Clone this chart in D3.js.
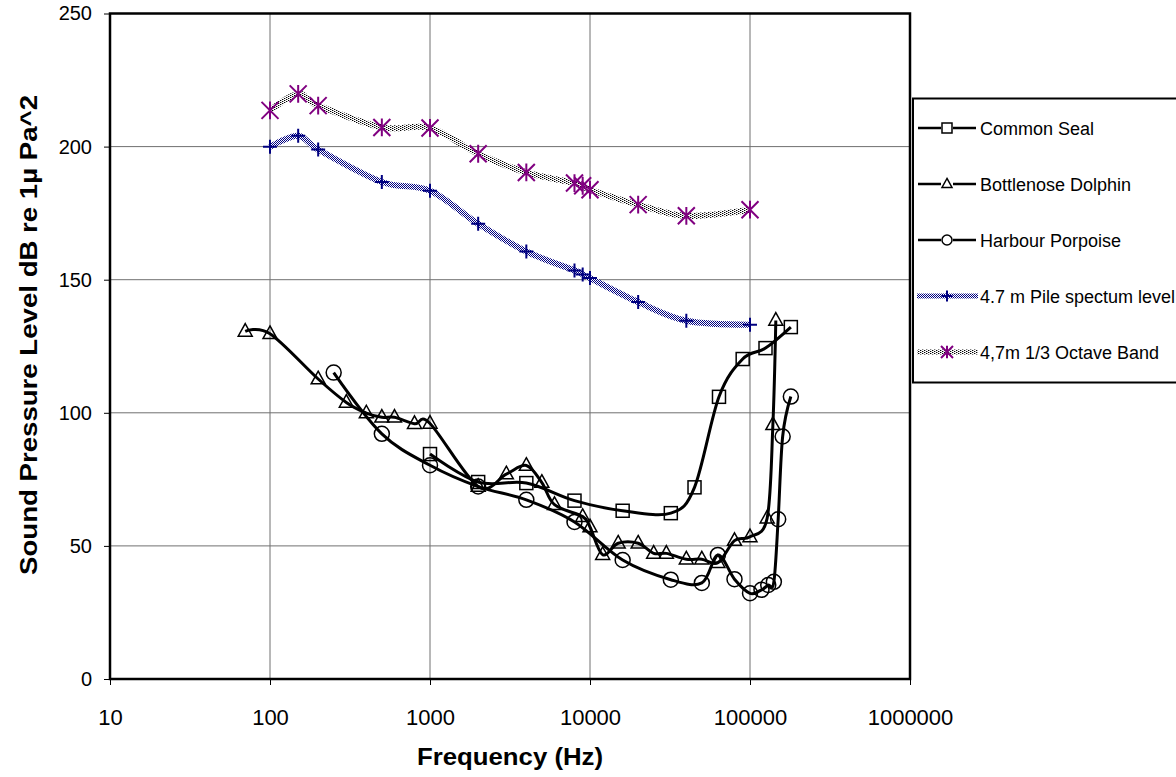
<!DOCTYPE html>
<html><head><meta charset="utf-8">
<script src="https://cdn.jsdelivr.net/npm/d3@7"></script>
<style>body{margin:0;background:#fff}svg{display:block}text{font-family:"Liberation Sans",Arial,sans-serif}</style>
</head><body>
<svg id="c" width="1176" height="777"></svg>
<script>
// ---- data ----
const xTicks = [10, 100, 1000, 10000, 100000, 1000000];
const yTicks = [0, 50, 100, 150, 200, 250];

const sealFreq = [1000, 2000, 4000, 8000, 16000, 32000, 45000, 64000, 90000, 125000, 180000];
const sealSPL  = [84.5, 74, 73.6, 67, 63.2, 62.3, 72, 106, 120.2, 124.3, 132.2];

const dolphinFreq = [70, 100, 200, 300, 400, 500, 600, 800, 1000, 2000, 3000, 4000, 5000, 6000, 9000, 10000, 12000, 15000, 20000, 25000, 30000, 40000, 50000, 63000, 80000, 100000, 128000, 139000, 145000];
const dolphinSPL  = [130.6, 129.7, 112.7, 103.9, 99.9, 98.3, 98.3, 95.9, 96, 72.3, 77, 80.2, 73.8, 65.5, 61, 57.1, 46.7, 51, 51, 47.2, 47.2, 45, 45, 43.7, 52, 53.4, 60.4, 95.5, 134.7];

const porpoiseFreq = [250, 500, 1000, 2000, 4000, 8000, 16000, 32000, 50000, 63000, 80000, 100000, 118000, 130000, 141000, 150000, 160000, 180000];
const porpoiseSPL  = [115.1, 92.1, 80.3, 72.3, 67.3, 59, 44.7, 37.3, 36.1, 46.6, 37.5, 32.2, 33.5, 35.3, 36.5, 60, 91.1, 106.1];

const pileFreq = [100, 150, 200, 500, 1000, 2000, 4000, 8000, 9000, 10000, 20000, 40000, 100000];
const pileSPL  = [199.9, 204.1, 198.9, 186.7, 183.4, 171, 160.6, 153.5, 152, 150.6, 141.6, 134.6, 133.1];

const octFreq = [100, 150, 200, 500, 1000, 2000, 4000, 8000, 9000, 10000, 20000, 40000, 100000];
const octSPL  = [213.6, 219.8, 215.4, 207.2, 207, 197.3, 190.3, 186.3, 185.3, 183.8, 178.2, 174, 176.3];

const seriesNames = ["Common Seal", "Bottlenose Dolphin", "Harbour Porpoise", "4.7 m Pile spectum level", "4,7m 1/3 Octave Band"];

// ---- layout ----
const L = 110, R = 910, T = 13.5, B = 679;
const svg = d3.select("#c");
const x = d3.scaleLog().domain([10, 1000000]).range([L, R]);
const y = d3.scaleLinear().domain([0, 250]).range([B, T]);

const defs = svg.append("defs");
const pBlue = defs.append("pattern").attr("id","pblue").attr("patternUnits","userSpaceOnUse").attr("width",2).attr("height",2);
pBlue.append("rect").attr("width",2).attr("height",2).attr("fill","#fff");
pBlue.append("rect").attr("x",0).attr("y",0).attr("width",1).attr("height",1).attr("fill","#000080");
pBlue.append("rect").attr("x",1).attr("y",1).attr("width",1).attr("height",1).attr("fill","#000080");
const pGray = defs.append("pattern").attr("id","pgray").attr("patternUnits","userSpaceOnUse").attr("width",4).attr("height",2);
pGray.append("rect").attr("width",4).attr("height",2).attr("fill","#fff");
pGray.append("rect").attr("x",0).attr("y",0).attr("width",1).attr("height",1).attr("fill","#000");
pGray.append("rect").attr("x",2).attr("y",1).attr("width",1).attr("height",1).attr("fill","#000");
pGray.append("rect").attr("x",1).attr("y",0).attr("width",1).attr("height",1).attr("fill","#aaa");
pGray.append("rect").attr("x",3).attr("y",1).attr("width",1).attr("height",1).attr("fill","#aaa");

// grid
const g = svg.append("g");
g.selectAll(".gx").data(xTicks).join("line")
  .attr("x1", d=>x(d)).attr("x2", d=>x(d)).attr("y1", T).attr("y2", B)
  .attr("stroke","#707070").attr("stroke-width",1);
g.selectAll(".gy").data(yTicks).join("line")
  .attr("x1", L).attr("x2", R).attr("y1", d=>y(d)).attr("y2", d=>y(d))
  .attr("stroke","#707070").attr("stroke-width",1);

// axes
const ax = svg.append("g").attr("transform",`translate(0,${B})`)
  .call(d3.axisBottom(x).tickValues(xTicks).tickFormat(d3.format("d")).tickSize(6).tickSizeOuter(0));
ax.select(".domain").remove();
ax.selectAll("text").attr("font-size",22).attr("y",9).attr("dy","1.68em").attr("fill","#000");
ax.selectAll("line").attr("stroke","#000");
const ay = svg.append("g").attr("transform",`translate(${L},0)`)
  .call(d3.axisLeft(y).tickValues(yTicks).tickSize(6).tickSizeOuter(0));
ay.select(".domain").remove();
ay.selectAll("text").attr("font-size",20).attr("dx","-0.45em").attr("fill","#000");
ay.selectAll("line").attr("stroke","#000");

// plot border
svg.append("rect").attr("x",L).attr("y",T).attr("width",R-L).attr("height",B-T)
  .attr("fill","none").attr("stroke","#000").attr("stroke-width",2.5);

// axis titles
svg.append("text").attr("x",(L+R)/2).attr("y",765).attr("text-anchor","middle")
  .attr("font-size",24).attr("font-weight","bold").text("Frequency (Hz)")
  .attr("textLength",186).attr("lengthAdjust","spacingAndGlyphs");
svg.append("text").attr("transform",`translate(37,335) rotate(-90)`).attr("text-anchor","middle")
  .attr("font-size",24).attr("font-weight","bold").text("Sound Pressure Level dB re 1\u00b5 Pa^2")
  .attr("textLength",480).attr("lengthAdjust","spacingAndGlyphs");

const line = d3.line().x(d=>x(d[0])).y(d=>y(d[1])).curve(d3.curveCardinal.tension(0));
const zip = (a,b)=>a.map((v,i)=>[v,b[i]]);

const seal = zip(sealFreq, sealSPL), dol = zip(dolphinFreq, dolphinSPL), por = zip(porpoiseFreq, porpoiseSPL);
const pile = zip(pileFreq, pileSPL), oct = zip(octFreq, octSPL);

const plot = svg.append("g");
plot.append("path").attr("d", line(oct)).attr("fill","none").attr("stroke","url(#pgray)").attr("stroke-width",6);
plot.append("path").attr("d", line(pile)).attr("fill","none").attr("stroke","url(#pblue)").attr("stroke-width",6);
[seal, dol, por].forEach(s=>{
  plot.append("path").attr("d", line(s)).attr("fill","none").attr("stroke","#000").attr("stroke-width",3).attr("stroke-linejoin","round");
});

function square(sel, s){ sel.append("rect").attr("x",-s/2).attr("y",-s/2).attr("width",s).attr("height",s).attr("fill","none").attr("stroke","#000").attr("stroke-width",1.5); }
function tri(sel, s){ const h=s*0.9; sel.append("path").attr("d",`M0,${-h*0.62}L${s/2},${h*0.38}L${-s/2},${h*0.38}Z`).attr("fill","none").attr("stroke","#000").attr("stroke-width",1.5); }
function circ(sel, s){ sel.append("circle").attr("r",s/2).attr("fill","none").attr("stroke","#000").attr("stroke-width",1.5); }
function plus(sel, s){ sel.append("path").attr("d",`M${-s/2},0H${s/2}M0,${-s/2}V${s/2}`).attr("stroke","#000080").attr("stroke-width",2); }
function star(sel, s){ const a=s/2; sel.append("path").attr("d",`M${-a},${-a}L${a},${a}M${a},${-a}L${-a},${a}M0,${-a*1.05}V${a*1.05}`).attr("stroke","#800080").attr("stroke-width",2); }

function markers(data, fn, s){
  plot.append("g").selectAll("g").data(data).join("g")
    .attr("transform", d=>`translate(${x(d[0])},${y(d[1])})`).each(function(){ fn(d3.select(this), s); });
}
markers(oct, star, 17);
markers(pile, plus, 14);
markers(seal, square, 13);
markers(dol, tri, 14);
markers(por, circ, 15);

// legend
const lg = svg.append("g");
lg.append("rect").attr("x",913).attr("y",98.5).attr("width",300).attr("height",284).attr("fill","#fff").attr("stroke","#000").attr("stroke-width",2);
const ly = [128, 184, 240, 296, 352];
const lfns = [square, tri, circ, plus, star];
const lsz = [10, 10, 10, 11, 12];
seriesNames.forEach((n,i)=>{
  const yy = ly[i];
  if (i<3) lg.append("line").attr("x1",918).attr("x2",976).attr("y1",yy).attr("y2",yy).attr("stroke","#000").attr("stroke-width",2.5);
  else lg.append("line").attr("x1",917).attr("x2",978).attr("y1",yy).attr("y2",yy).attr("stroke", i===3?"url(#pblue)":"url(#pgray)").attr("stroke-width",5);
  const mg = lg.append("g").attr("transform",`translate(947,${yy})`);
  if (i<3) mg.append("rect").attr("x",-6).attr("y",-6).attr("width",12).attr("height",12).attr("fill","#fff");
  lfns[i](mg, lsz[i]);
  lg.append("text").attr("x",980).attr("y",yy+6.5).attr("font-size",18).text(n);
});
</script>
</body></html>
